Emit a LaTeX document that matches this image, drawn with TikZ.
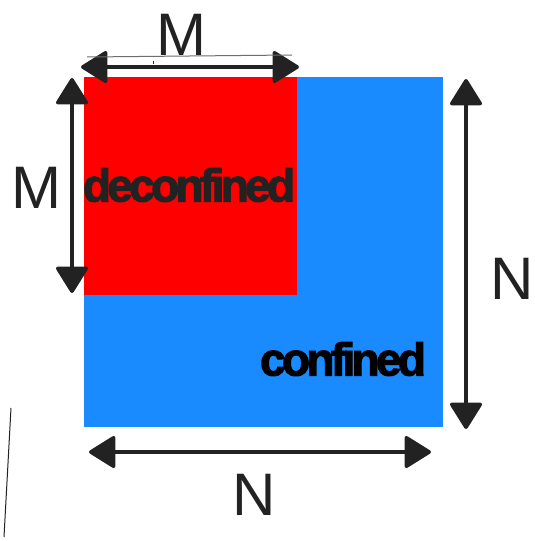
\documentclass[tikz,border=0pt]{standalone}
\usepackage{fontspec}
\setmainfont{Liberation Sans}
\newfontfamily\heavyfont{Liberation Sans Bold}[FakeBold=2.5, LetterSpace=-8]
\usepackage{xcolor}
\usepackage{tikz}
\usetikzlibrary{arrows.meta, positioning, calc}
\definecolor{BoxBlue}{RGB}{26, 138, 255}
\definecolor{BoxRed}{RGB}{255, 0, 0}
\definecolor{ArrowDark}{RGB}{34, 34, 34}
\definecolor{RuleGrey}{RGB}{110, 110, 110}

\tikzset{
  dimarrow/.style={ArrowDark, line width=3.6pt,
    {Triangle[round, width=34pt, length=28pt]}-{Triangle[round, width=34pt, length=28pt]}},
  dimlabel/.style={text=ArrowDark, font=\fontsize{60}{64}\selectfont, inner sep=0pt},
  boxlabel/.style={font=\fontsize{46}{48}\heavyfont, inner sep=0pt}
}

\begin{document}
\begin{tikzpicture}[x=1pt,y=-1pt]
  \path[use as bounding box] (0,0) rectangle (535,541);
  \fill[white] (0,0) rectangle (535,541);
  % squares
  \fill[BoxBlue] (84,77) rectangle (443,427);
  \fill[BoxRed] (84,77) rectangle (297,295);
  % end points of the dimension arrows
  \coordinate (mtopL) at (81,67);
  \coordinate (mtopR) at (299,67);
  \coordinate (mleftT) at (72,78);
  \coordinate (mleftB) at (72,293);
  \coordinate (nrightT) at (466,79);
  \coordinate (nrightB) at (466,429);
  \coordinate (nbotL) at (89,452);
  \coordinate (nbotR) at (431,452);
  \draw[dimarrow] (mtopL) -- (mtopR);
  \draw[dimarrow] (mleftT) -- (mleftB);
  \draw[dimarrow] (nrightT) -- (nrightB);
  \draw[dimarrow] (nbotL) -- (nbotR);
  % stray strokes
  \coordinate (ruleA) at (87,57);
  \coordinate (ruleB) at (292,55);
  \draw[RuleGrey, line width=1pt] (ruleA) -- (ruleB);
  \fill[ArrowDark] (152.5,60.5) rectangle (154,64);
  \coordinate (strayA) at (11,408);
  \coordinate (strayB) at (4,537);
  \draw[ArrowDark, line width=1pt] (strayA) -- (strayB);
  % labels
  \node[dimlabel] (mtop) at (181,35) {M};
  \node[dimlabel] (mleft) at (36,188) {M};
  \node[dimlabel] (nright) at (512,279) {N};
  \node[dimlabel] (nbot) at (254,495) {N};
  \node[boxlabel, text=ArrowDark] (deconf) at (189,185) {deconfined};
  \node[boxlabel, text=black] (conf) at (343,359) {confined};
\end{tikzpicture}
\end{document}
